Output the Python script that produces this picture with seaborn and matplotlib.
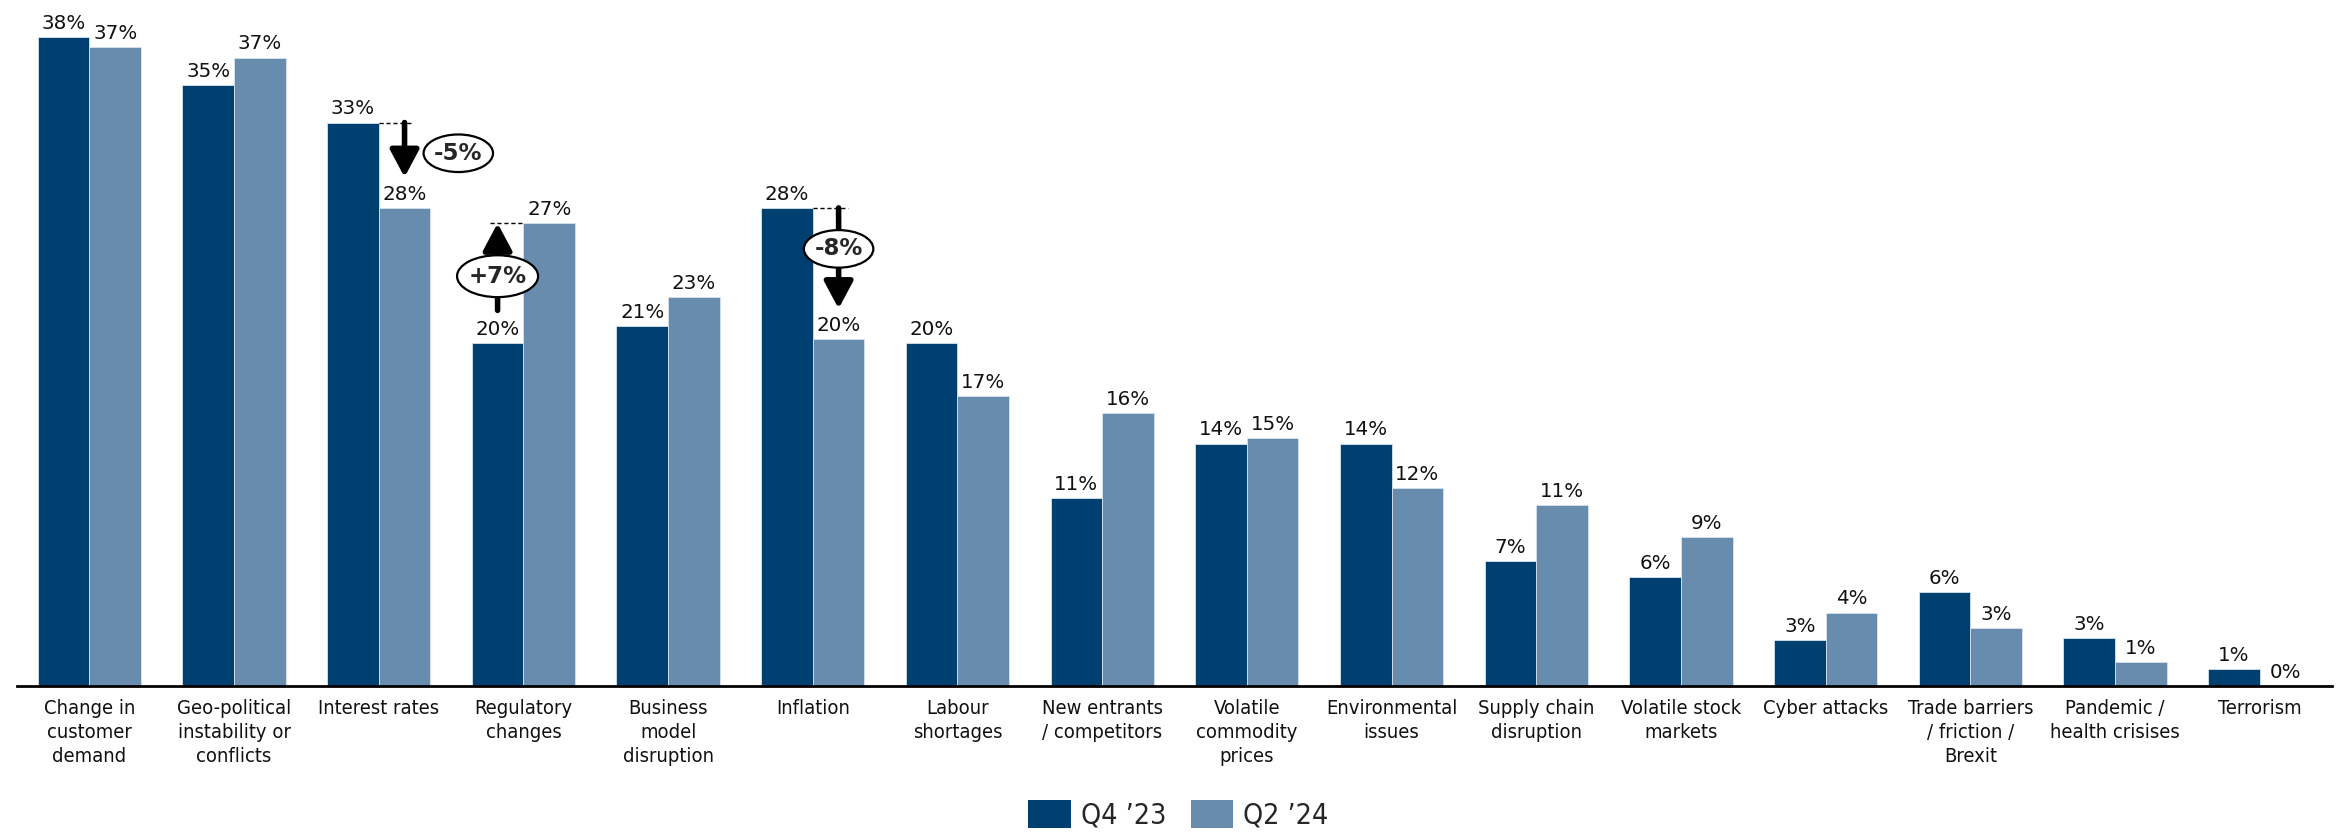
import matplotlib
matplotlib.use("Agg")
import matplotlib.pyplot as plt
from matplotlib.patches import Ellipse, Patch
import seaborn as sns
import pandas as pd

categories = [
    "Change in\ncustomer\ndemand",
    "Geo-political\ninstability or\nconflicts",
    "Interest rates",
    "Regulatory\nchanges",
    "Business\nmodel\ndisruption",
    "Inflation",
    "Labour\nshortages",
    "New entrants\n/ competitors",
    "Volatile\ncommodity\nprices",
    "Environmental\nissues",
    "Supply chain\ndisruption",
    "Volatile stock\nmarkets",
    "Cyber attacks",
    "Trade barriers\n/ friction /\nBrexit",
    "Pandemic /\nhealth crisises",
    "Terrorism",
]
q4_values = [38.0, 35.2, 33.0, 20.1, 21.1, 28.0, 20.1, 11.0, 14.2, 14.2, 7.3, 6.4, 2.7, 5.5, 2.8, 1.0]
q2_values = [37.4, 36.8, 28.0, 27.1, 22.8, 20.3, 17.0, 16.0, 14.5, 11.6, 10.6, 8.7, 4.3, 3.4, 1.4, 0.0]
q4_labels = [38, 35, 33, 20, 21, 28, 20, 11, 14, 14, 7, 6, 3, 6, 3, 1]
q2_labels = [37, 37, 28, 27, 23, 20, 17, 16, 15, 12, 11, 9, 4, 3, 1, 0]
series_names = ["Q4 \u201923", "Q2 \u201924"]
colors = ["#004071", "#678CAE"]

# change annotations: (category index, text)
changes = [(2, "-5%"), (3, "+7%"), (5, "-8%")]

FONT = ["DejaVu Sans"]
sns.set_style("white")
plt.rcParams["font.family"] = FONT
plt.rcParams["font.stretch"] = "condensed"

df = pd.DataFrame({
    "cat": categories * 2,
    "value": q4_values + q2_values,
    "series": [series_names[0]] * len(categories) + [series_names[1]] * len(categories),
})

fig = plt.figure(figsize=(23.43, 8.32), dpi=100)
ax = fig.add_axes([17 / 2343, 1 - 686 / 832, (2332 - 17) / 2343, (686 - 3) / 832])

sns.barplot(data=df, x="cat", y="value", hue="series", order=categories,
            hue_order=series_names, palette=colors, saturation=1, width=0.714, gap=0,
            edgecolor="#d8e2ec", linewidth=0.6, ax=ax, legend=False)

ax.set_xlim(-0.5, len(categories) - 0.5)
ax.set_ylim(0, 40)
ax.set_xlabel("")
ax.set_ylabel("")
ax.set_yticks([])
for s in ["top", "right", "left"]:
    ax.spines[s].set_visible(False)
ax.spines["bottom"].set_linewidth(2)
ax.spines["bottom"].set_color("black")
ax.tick_params(axis="x", length=0, pad=9, labelsize=14.5, labelcolor="#111111")
for lab in ax.get_xticklabels():
    lab.set_linespacing(1.36)

bw = 0.714 / 2
for i in range(len(categories)):
    for j, (vals, labs) in enumerate([(q4_values, q4_labels), (q2_values, q2_labels)]):
        x = i - bw / 2 + j * bw
        ax.annotate(f"{labs[i]}%", (x, vals[i]), xytext=(0, 3), textcoords="offset points",
                    ha="center", va="bottom", fontsize=14.3, fontstretch="normal",
                    color="#111111", annotation_clip=False)

arrow_kw = dict(arrowstyle="-|>,head_length=0.75,head_width=0.4", lw=4,
                color="black", mutation_scale=22, shrinkA=0, shrinkB=0)

for idx, txt in changes:
    a, b = q4_values[idx], q2_values[idx]
    xd = idx - bw / 2
    xl = idx + bw / 2
    if b < a:
        # dashed line at old level over the lighter bar
        ax.plot([idx, idx + 0.24], [a, a], ls=(0, (3, 2)), color="black", lw=1)
        tip = b + 1.8
        ax.annotate("", xy=(xl, tip), xytext=(xl, a), arrowprops=arrow_kw)
        if idx == 2:
            ex, ey = idx + 0.55, (a + tip) / 2 - 0.2
        else:
            ex, ey = xl, a - 2.4
        ax.add_patch(Ellipse((ex, ey), 0.48, 2.2, facecolor="white", edgecolor="black",
                             lw=1.6, zorder=5))
        ax.text(ex, ey, txt, ha="center", va="center", fontsize=16.5, fontweight="bold",
                fontstretch="normal", zorder=6)
    else:
        ax.plot([idx - 0.23, idx], [b, b], ls=(0, (3, 2)), color="black", lw=1)
        start = a + 1.9
        ax.annotate("", xy=(xd, b), xytext=(xd, start), arrowprops=arrow_kw)
        ex, ey = xd, 24.0
        ax.add_patch(Ellipse((ex, ey), 0.56, 2.45, facecolor="white", edgecolor="black",
                             lw=1.6, zorder=5))
        ax.text(ex, ey, txt, ha="center", va="center", fontsize=16.5, fontweight="bold",
                fontstretch="normal", zorder=6)

handles = [Patch(facecolor=c, edgecolor="none") for c in colors]
fig.legend(handles, series_names, loc="center", bbox_to_anchor=(0.503, 17 / 832),
           ncol=2, frameon=False, fontsize=20.5, handlelength=1.5, handleheight=1.1,
           handletextpad=0.35, columnspacing=0.85, borderaxespad=0, borderpad=0)

fig.savefig("out.png", dpi=100)
